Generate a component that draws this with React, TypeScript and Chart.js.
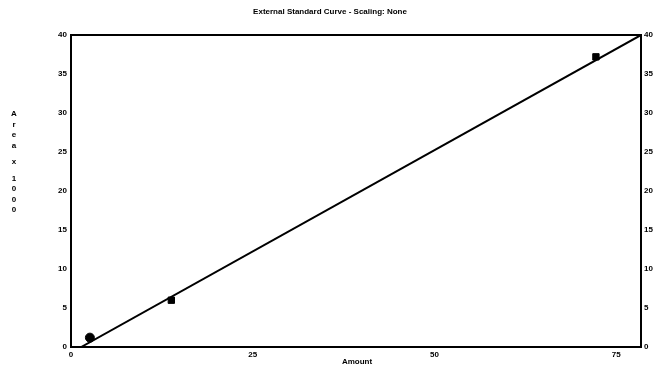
import React, { useEffect, useRef } from "react";
import { Chart, registerables } from "chart.js";

Chart.register(...registerables);

const chartTitle = "External Standard Curve - Scaling: None";
const xAxisTitle = "Amount";
const yAxisTitle = "Area x 1000";

const xTicks = [0, 25, 50, 75];
const yTicks = [0, 5, 10, 15, 20, 25, 30, 35, 40];

// calibration points (amount, area/1000)
const pointAmounts = [2.6, 13.8, 72.2];
const pointAreas = [1.2, 6.0, 37.2];
const pointShapes = ["circle", "rect", "rect"];

// fitted calibration line endpoints
const fitAmounts = [1.4, 78.4];
const fitAreas = [0, 40];

const X_MAX = 78.4;
const Y_MAX = 40;

const FONT = "'Liberation Sans', Arial, sans-serif";

const textPlugin = {
  id: "customText",
  afterDraw(chart: any) {
    const { ctx, chartArea } = chart;
    ctx.save();
    ctx.fillStyle = "#000";
    // title
    ctx.font = `bold 8px ${FONT}`;
    ctx.textAlign = "center";
    ctx.textBaseline = "middle";
    ctx.fillText(chartTitle, 330, 12);
    // x axis title
    ctx.fillText(xAxisTitle, 357, 362);
    // y axis title - stacked letters
    const letters = yAxisTitle.split("");
    let y = 114;
    letters.forEach((ch) => {
      if (ch === " ") {
        y += 6;
        return;
      }
      ctx.fillText(ch, 14, y);
      y += 10.5;
    });
    // frame
    ctx.strokeStyle = "#000";
    ctx.lineWidth = 2;
    ctx.strokeRect(chartArea.left, chartArea.top, chartArea.right - chartArea.left, chartArea.bottom - chartArea.top);
    ctx.restore();
  },
};

export default function App() {
  const ref = useRef<HTMLCanvasElement>(null);
  useEffect(() => {
    if (!ref.current) return;
    const chart = new Chart(ref.current, {
      type: "scatter",
      data: {
        datasets: [
          {
            type: "line",
            data: fitAmounts.map((x, i) => ({ x, y: fitAreas[i] })),
            borderColor: "#000",
            borderWidth: 2,
            pointRadius: 0,
            showLine: true,
            fill: false,
          } as any,
          {
            type: "scatter",
            data: pointAmounts.map((x, i) => ({ x, y: pointAreas[i] })),
            backgroundColor: "#000",
            borderColor: "#000",
            pointStyle: pointShapes as any,
            pointRadius: 4.5,
          },
        ],
      },
      options: {
        responsive: false,
        animation: false,
        layout: { padding: { top: 35, left: 0, right: 0, bottom: 0 } },
        plugins: { legend: { display: false }, tooltip: { enabled: false }, title: { display: false } },
        scales: {
          x: {
            type: "linear",
            min: 0,
            max: X_MAX,
            afterBuildTicks: (s: any) => {
              s.ticks = xTicks.map((v) => ({ value: v }));
            },
            afterFit: (s: any) => {
              s.height = 21;
            },
            grid: { display: false, drawTicks: false },
            border: { display: false },
            ticks: {
              color: "#000",
              font: { family: FONT, size: 8, weight: "bold" },
              padding: 3,
              maxRotation: 0,
            },
          },
          y: {
            type: "linear",
            position: "left",
            min: 0,
            max: Y_MAX,
            afterBuildTicks: (s: any) => {
              s.ticks = yTicks.map((v) => ({ value: v }));
            },
            afterFit: (s: any) => {
              s.width = 71;
            },
            grid: { display: false, drawTicks: false },
            border: { display: false },
            ticks: {
              color: "#000",
              font: { family: FONT, size: 8, weight: "bold" },
              padding: 4,
            },
          },
          y2: {
            type: "linear",
            position: "right",
            min: 0,
            max: Y_MAX,
            afterBuildTicks: (s: any) => {
              s.ticks = yTicks.map((v) => ({ value: v }));
            },
            afterFit: (s: any) => {
              s.width = 17;
            },
            grid: { display: false, drawTicks: false },
            border: { display: false },
            ticks: {
              color: "#000",
              font: { family: FONT, size: 8, weight: "bold" },
              padding: 3,
            },
          },
        },
      },
      plugins: [textPlugin],
    });
    return () => chart.destroy();
  }, []);
  return (
    <div style={{ position: "fixed", left: 0, top: 0, width: 658, height: 368, background: "#fff" }}>
      <canvas ref={ref} width={658} height={368} style={{ display: "block" }} />
    </div>
  );
}
